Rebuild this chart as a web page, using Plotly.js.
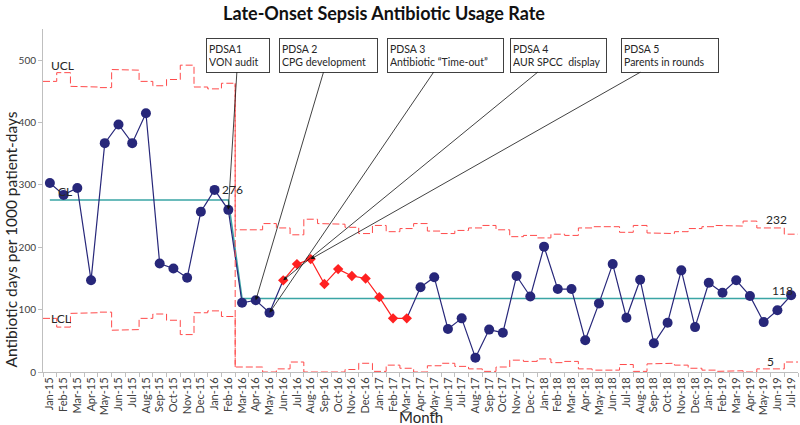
<!DOCTYPE html>
<html>
<head>
<meta charset="utf-8">
<script src="https://cdn.plot.ly/plotly-3.0.1.min.js"></script>
<style>
    body { margin: 0; background: white; }
    #plot { width: 800px; height: 425px; }
</style>
</head>
<body>
<div id="plot"></div>
<script>
// month labels along the x axis
let months = [
    "Jan-15", "Feb-15", "Mar-15", "Apr-15", "May-15", "Jun-15", "Jul-15", "Aug-15", "Sep-15", "Oct-15", "Nov-15", "Dec-15",
    "Jan-16", "Feb-16", "Mar-16", "Apr-16", "May-16", "Jun-16", "Jul-16", "Aug-16", "Sep-16", "Oct-16", "Nov-16", "Dec-16",
    "Jan-17", "Feb-17", "Mar-17", "Apr-17", "May-17", "Jun-17", "Jul-17", "Aug-17", "Sep-17", "Oct-17", "Nov-17", "Dec-17",
    "Jan-18", "Feb-18", "Mar-18", "Apr-18", "May-18", "Jun-18", "Jul-18", "Aug-18", "Sep-18", "Oct-18", "Nov-18", "Dec-18",
    "Jan-19", "Feb-19", "Mar-19", "Apr-19", "May-19", "Jun-19", "Jul-19"
];

// antibiotic days per 1000 patient-days
let rate = [
    303, 284, 295, 147, 367, 397, 367, 415, 174, 166, 151, 257,
    292, 260, 111, 115, 95, 147, 173, 181, 141, 165, 154, 150,
    120, 86, 86, 136, 152, 69, 86, 23, 68, 63, 154, 121,
    201, 133, 133, 51, 110, 173, 87, 148, 46, 79, 163, 72,
    143, 127, 147, 122, 80, 99, 123
];

// upper control limit for each month
let ucl = [
    466, 480, 458, 457, 456, 485, 484, 466, 459, 469, 492, 457,
    454, 463, 228, 228, 238, 231, 220, 245, 238, 237, 232, 222,
    235, 225, 230, 238, 226, 222, 227, 231, 235, 228, 217, 219,
    215, 221, 219, 231, 233, 233, 224, 235, 223, 222, 225, 230,
    233, 235, 234, 242, 231, 231, 221
];

// lower control limit for each month
let lcl = [
    86, 72, 94, 95, 96, 67, 68, 86, 93, 83, 60, 95,
    98, 89, 8, 8, 0, 5, 16, 0, 0, 0, 4, 14,
    1, 11, 6, 0, 10, 14, 9, 5, 1, 8, 19, 17,
    21, 15, 17, 5, 3, 3, 12, 1, 13, 14, 11, 6,
    3, 1, 2, 0, 5, 5, 16
];

// centre lines of the two phases
let clBefore = 276;
let clAfter = 118;
let phaseStart = "Mar-16";

// special cause run shown in red
let shiftFrom = "Jun-16";
let shiftTo = "Mar-17";

// PDSA cycles and the month each one points to
let pdsaNames = ["PDSA1", "PDSA 2", "PDSA 3", "PDSA 4", "PDSA 5"];
let pdsaTexts = ["VON audit", "CPG development", "Antibiotic \u201cTime-out\u201d", "AUR SPCC\u00a0 display", "Parents in rounds"];
let pdsaMonths = ["Feb-16", "Apr-16", "May-16", "Jun-16", "Aug-16"];

// labels written on the chart
let limitLabels = ["276", "118", "232", "5"];

let navy = "#27277a";
let red = "#ff2020";
let limitRed = "#ff4a4a";
let teal = "#3aa5a5";
let fontFamily = "Lato, 'Open Sans', sans-serif";

let idx = months.map((m, i) => i);
let breakIdx = months.indexOf(phaseStart);
let fromIdx = months.indexOf(shiftFrom);
let toIdx = months.indexOf(shiftTo);

// centre line values for each month
let cl = idx.map(i => (i < breakIdx ? clBefore : clAfter));

// step line: each month spans half a category each side
function stepLine(values)
{
    let xs = [];
    let ys = [];
    values.forEach(function(v, i)
    {
        xs.push(i - 0.5, i + 0.5);
        ys.push(v, v);
    });
    return {x: xs, y: ys};
}

let uclStep = stepLine(ucl);
let lclStep = stepLine(lcl);

let traceUcl = {
    x: uclStep.x,
    y: uclStep.y,
    mode: "lines",
    line: {color: limitRed, width: 1, dash: "7px,3px"},
    hoverinfo: "skip"
};

let traceLcl = {
    x: lclStep.x,
    y: lclStep.y,
    mode: "lines",
    line: {color: limitRed, width: 1, dash: "7px,3px"},
    hoverinfo: "skip"
};

let traceCl = {
    x: idx,
    y: cl,
    mode: "lines",
    line: {color: teal, width: 1.5}
};

// blue line leaves a gap for the red run (the end points still join)
let traceLine = {
    x: idx,
    y: rate.map((v, i) => (i > fromIdx && i < toIdx ? null : v)),
    mode: "lines",
    line: {color: navy, width: 1.2}
};

let traceDots = {
    x: idx,
    y: rate.map((v, i) => (i >= fromIdx && i <= toIdx ? null : v)),
    mode: "markers",
    marker: {color: navy, size: 10, symbol: "circle"}
};

let traceShift = {
    x: idx,
    y: rate.map((v, i) => (i >= fromIdx && i <= toIdx ? v : null)),
    mode: "lines+markers",
    line: {color: red, width: 1.2},
    marker: {color: red, size: 8, symbol: "diamond"}
};

// PDSA boxes with arrows to their month
let boxCentres = [13.7, 20.3, 28.8, 37.05, 45.2];
let boxWidths = [66, 101, 119, 99, 100];

let annotations = pdsaNames.map(function(name, k)
{
    let i = months.indexOf(pdsaMonths[k]);
    return {
        x: i,
        y: rate[i],
        xref: "x",
        yref: "y",
        ax: boxCentres[k],
        ay: 508,
        axref: "x",
        ayref: "y",
        text: name + "<br>" + pdsaTexts[k],
        align: "left",
        showarrow: true,
        arrowhead: 2,
        arrowsize: 1,
        arrowwidth: 0.8,
        arrowcolor: "#111111",
        standoff: 0,
        width: boxWidths[k] - 8,
        height: 29,
        borderpad: 2,
        borderwidth: 1,
        bordercolor: "#404040",
        bgcolor: "white",
        font: {family: fontFamily, size: 10.5, color: "#262626"}
    };
});

// plain text labels on the chart
function label(text, x, y)
{
    return {
        x: x,
        y: y,
        xref: "x",
        yref: "y",
        xanchor: "center",
        yanchor: "middle",
        text: text,
        showarrow: false,
        font: {family: fontFamily, size: 12, color: "#262626"}
    };
}

annotations.push(label("UCL", 0.9, 491));
annotations.push(label("CL", 1.1, 289));
annotations.push(label("LCL", 0.8, 85));
annotations.push(label(limitLabels[0], 13.3, 293));
annotations.push(label(limitLabels[1], 53.35, 131));
annotations.push(label(limitLabels[2], 52.9, 244));
annotations.push(label(limitLabels[3], 52.5, 17));

// axis titles placed as annotations
annotations.push({
    x: -0.043,
    y: 0.385,
    xref: "paper",
    yref: "paper",
    xanchor: "center",
    yanchor: "middle",
    text: "Antibiotic days per 1000 patient-days",
    textangle: -90,
    showarrow: false,
    font: {family: fontFamily, size: 15.5, color: "#262626"}
});

annotations.push({
    x: 0.5,
    y: -0.131,
    xref: "paper",
    yref: "paper",
    xanchor: "center",
    yanchor: "middle",
    text: "Month",
    showarrow: false,
    font: {family: fontFamily, size: 15, color: "#262626"}
});

let layout = {
    width: 800,
    height: 425,
    margin: {l: 43, r: 2, t: 29, b: 53},
    paper_bgcolor: "white",
    plot_bgcolor: "white",
    showlegend: false,
    title: {
        text: "<b>Late-Onset Sepsis Antibiotic Usage Rate</b>",
        x: 0.48,
        xref: "container",
        y: 0.968,
        yref: "container",
        yanchor: "middle",
        font: {family: fontFamily, size: 18, color: "#111111"}
    },
    xaxis: {
        range: [-0.5, 54.5],
        tickmode: "array",
        tickvals: idx,
        ticktext: months,
        tickangle: -90,
        ticks: "",
        tickfont: {family: fontFamily, size: 11, color: "#404040"},
        minor: {
            tickmode: "linear",
            tick0: -0.5,
            dtick: 1,
            ticks: "outside",
            ticklen: 4,
            tickcolor: "#bfbfbf",
            showgrid: false
        },
        showline: true,
        linecolor: "#bfbfbf",
        showgrid: false,
        zeroline: false
    },
    yaxis: {
        range: [0, 550],
        tickvals: [0, 100, 200, 300, 400, 500],
        ticks: "outside",
        ticklen: 4,
        tickcolor: "#bfbfbf",
        tickfont: {family: fontFamily, size: 10, color: "#404040"},
        showline: true,
        linecolor: "#bfbfbf",
        showgrid: false,
        zeroline: false
    },
    shapes: [
        // phase break between the two centre lines
        {
            type: "line",
            xref: "x",
            yref: "y",
            x0: breakIdx - 0.5,
            x1: breakIdx - 0.5,
            y0: lcl[breakIdx],
            y1: ucl[breakIdx - 1],
            line: {color: limitRed, width: 1, dash: "7px,3px"}
        }
    ],
    annotations: annotations
};

Plotly.newPlot("plot", [traceUcl, traceLcl, traceCl, traceLine, traceDots, traceShift], layout, {displayModeBar: false});
</script>
</body>
</html>
